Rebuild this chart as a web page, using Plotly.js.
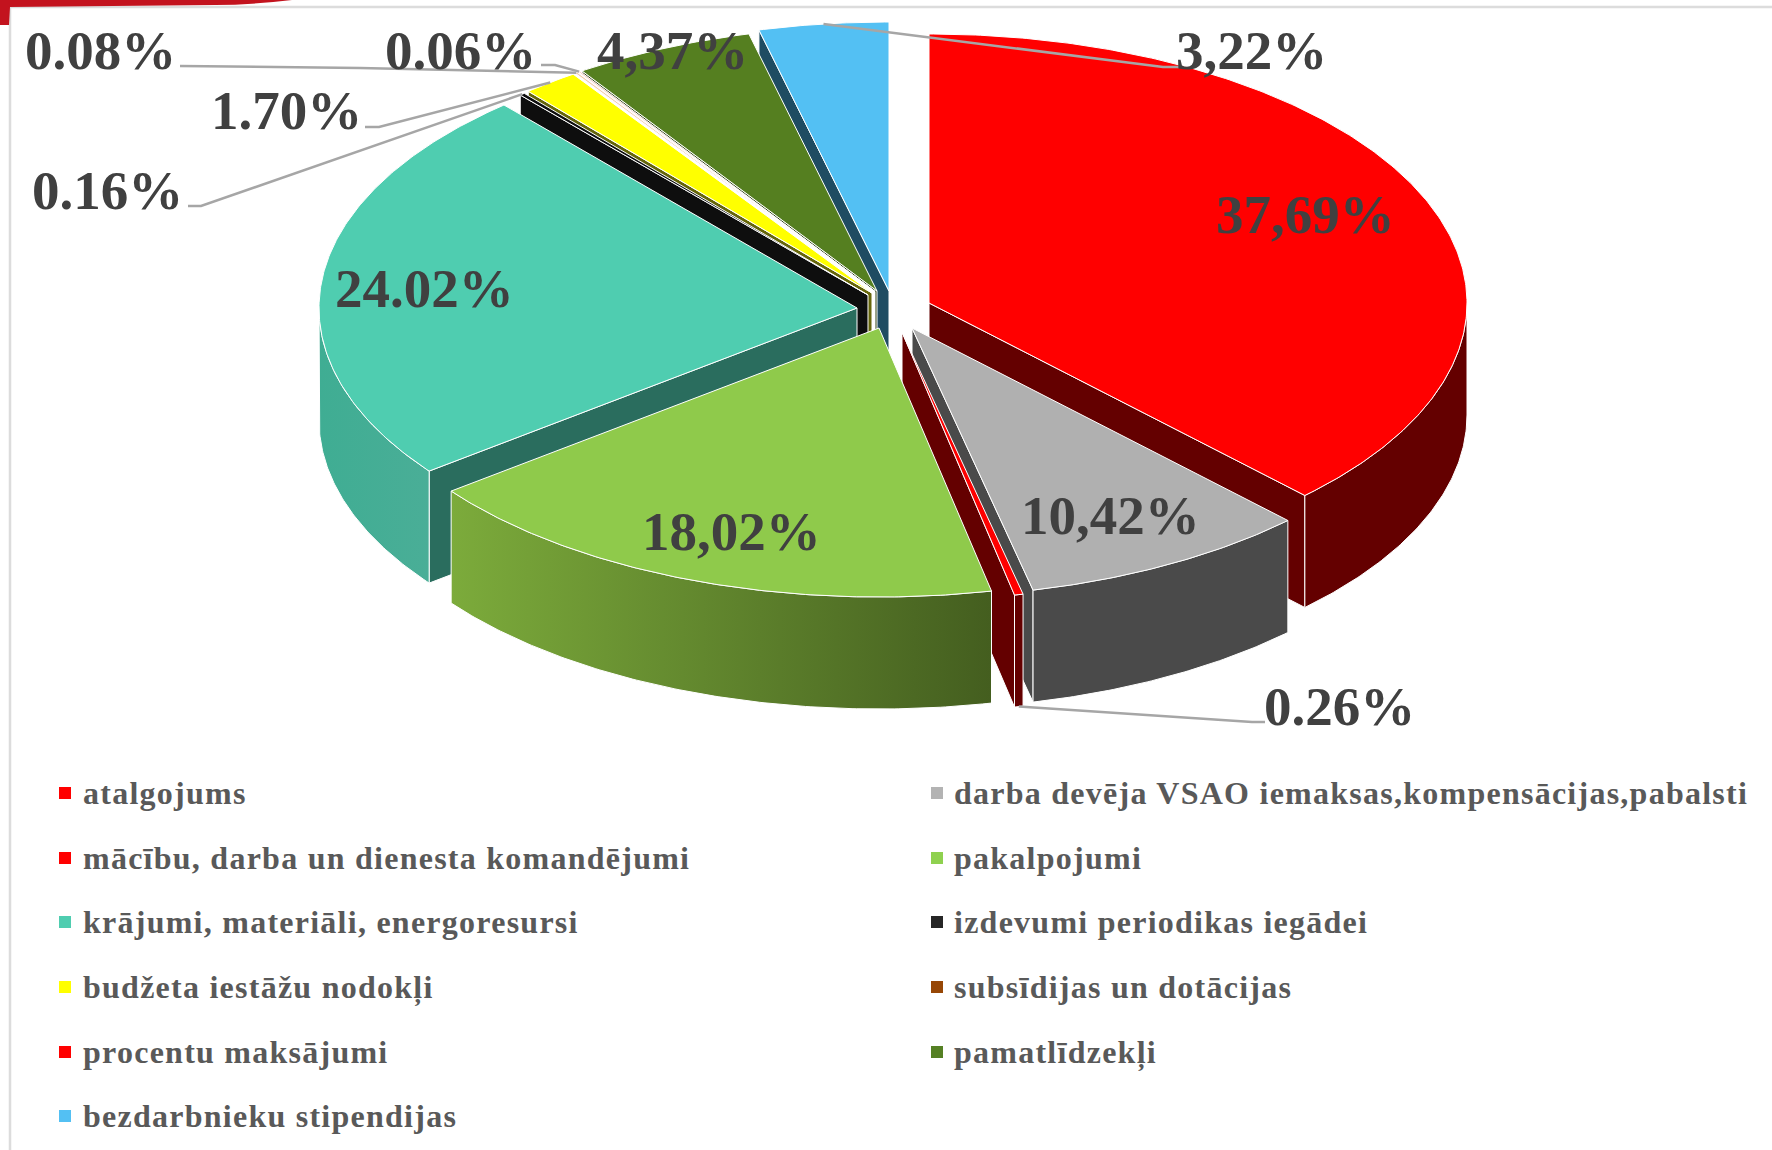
<!DOCTYPE html>
<html><head><meta charset="utf-8">
<script src="https://cdn.plot.ly/plotly-3.0.1.min.js"></script>
<style>html,body{margin:0;padding:0;background:#fff}#plot{width:1772px;height:1150px}
.annotation-text[style*="font-size: 32px"]{letter-spacing:1.25px}</style></head>
<body><div id="plot"></div>
<script>
// --- chart data ---
const categories = ["atalgojums","darba devēja VSAO iemaksas,kompensācijas,pabalsti","mācību, darba un dienesta komandējumi","pakalpojumi","krājumi, materiāli, energoresursi","izdevumi periodikas iegādei","budžeta iestāžu nodokļi","subsīdijas un dotācijas","procentu maksājumi","pamatlīdzekļi","bezdarbnieku stipendijas"];
const values = [37.69,10.42,0.26,18.02,24.02,0.16,1.70,0.08,0.06,4.37,3.22];
const valueLabels = ["37,69%","10,42%","0.26%","18,02%","24.02%","0.16%","1.70%","0.08%","0.06%","4,37%","3,22%"];

// --- styling ---
const topColors = ["#ff0000","#b0b0b0","#ff0000","#8fca4b","#4fcdb0","#0e0e0e","#ffff00","#f3c9a8","#ffc0c0","#557f20","#53c0f3"];
const wallColors = ["#640000","#4a4a4a","#640000","#445e1f","#2a6d5e","#0e0e0e","#66660a","#ffffff","#ffffff","#2e4215","#1f4c62"];
const legendColors = ["#ff0000","#b3b3b3","#ff0000","#8fd14f","#4fcdb0","#262626","#ffff00","#974706","#ff0000","#558024","#53c0f3"];
const wallGradients = {3:["#7cab3b","#445e1f"],4:["#3fad93","#4aae97"]};

// --- projection of the 3D view ---
const rx = 538, ry = 269, depth = 112;
const apexX = [929,912,902,879,857,868,872,874,875,877,889];
const apexY = [303,328,332,328,308,295,293,292,291.5,291,291];
const radiusScale = [1,1,1,1,1,0.985,0.985,0.985,0.985,0.985,1];
// perspective warp of the angle around the ring
const warpAt = [0,135.7,173.2,332.68,348.4,360];
const warpBy = [0,0,-6.2,-6.5,-2.4,0];
function warp(a){
  for(let i=1;i<warpAt.length;i++){
    if(a<=warpAt[i]){const t=(a-warpAt[i-1])/(warpAt[i]-warpAt[i-1]);
      return a+warpBy[i-1]+t*(warpBy[i]-warpBy[i-1]);}
  }
  return a;
}
const total = values.reduce((s,v)=>s+v,0);
const startA=[],endA=[];
let cum=0;
values.forEach((v,i)=>{startA[i]=warp(cum/total*360);cum+=v;endA[i]=warp(cum/total*360);});
const rad=d=>d*Math.PI/180;
const pt=(i,a,h=0)=>[apexX[i]+radiusScale[i]*rx*Math.sin(rad(a)),apexY[i]-radiusScale[i]*ry*Math.cos(rad(a))+h];
function arc(i,a,b,h){const n=Math.max(2,Math.ceil(Math.abs(b-a)/0.5));const o=[];
  for(let k=0;k<=n;k++)o.push(pt(i,a+(b-a)*k/n,h));return o;}

const traces=[];
function poly(points,color,grad){
  const pts=points.concat([points[0]]);
  const t={type:"scatter",mode:"lines",x:pts.map(p=>p[0]),y:pts.map(p=>p[1]),fill:"toself",
    fillcolor:color,line:{color:"#ffffff",width:1},hoverinfo:"skip",showlegend:false};
  if(grad)t.fillgradient={type:"horizontal",colorscale:[[0,grad[0]],[1,grad[1]]]};
  traces.push(t);
}
const paintOrder=[10,9,8,7,6,5,4,0,1,2,3];
paintOrder.forEach(i=>{
  const a=startA[i],b=endA[i],ap=[apexX[i],apexY[i]],apB=[apexX[i],apexY[i]+depth];
  if(a>180&&a<360) poly([ap,pt(i,a),pt(i,a,depth),apB],wallColors[i]);
  if(b>0&&b<180) poly([ap,pt(i,b),pt(i,b,depth),apB],wallColors[i]);
  const f=Math.max(a,90),g=Math.min(b,270);
  if(g>f) poly(arc(i,f,g,0).concat(arc(i,g,f,depth)),wallColors[i],wallGradients[i]);
  poly([ap].concat(arc(i,a,b,0)),topColors[i]);
});

// --- leader lines: fixed label end, slice end from the geometry ---
const leaderFrom={2:[[1265,722],[1252,722]],5:[[188,206],[201,206]],6:[[365,127],[379,127]],7:[[180,66],[360,68]],8:[[541,65],[555,65]],10:[[1179,67],[1163,67]]};
Object.keys(leaderFrom).forEach(k=>{
  const i=+k,m=(startA[i]+endA[i])/2,e=pt(i,m,i===2?depth:0);
  const p=leaderFrom[k].concat([e]);
  traces.push({type:"scatter",mode:"lines",x:p.map(q=>q[0]),y:p.map(q=>q[1]),
    line:{color:"#a6a6a6",width:2.5},hoverinfo:"skip",showlegend:false});
});

// --- percent labels ---
const labelX=[1305,1110,1339,731,424,107,286,100,460,672,1251];
const labelY=[214,515,706,531,288,190,110,50,50,50,50];
const annotations=valueLabels.map((s,i)=>({x:labelX[i],y:labelY[i],xref:"x",yref:"y",text:"<b>"+s+"</b>",showarrow:false,
  xanchor:"center",yanchor:"middle",font:{family:"Liberation Serif",size:55,color:"#404040"}}));

// --- legend in two columns ---
const rowY=[793,858,922,987,1052,1116];
const colMarkX=[65,937],colTextX=[80.5,951.5];
categories.forEach((c,i)=>{
  const col=i%2,row=Math.floor(i/2);
  traces.push({type:"scatter",mode:"markers",x:[colMarkX[col]],y:[rowY[row]],
    marker:{symbol:"square",size:12,color:legendColors[i]},hoverinfo:"skip",showlegend:false});
  annotations.push({x:colTextX[col],y:rowY[row],xref:"x",yref:"y",text:"<b>"+c+"</b>",showarrow:false,
    xanchor:"left",yanchor:"middle",captureevents:false,
    font:{family:"Liberation Serif",size:32,color:"#595959"}});
});

// --- frame of the slide ---
const shapes=[
  {type:"line",xref:"x",yref:"y",x0:10,x1:1772,y0:7,y1:7,line:{color:"#dcdcdc",width:2.5}},
  {type:"line",xref:"x",yref:"y",x0:10,x1:10,y0:7,y1:1150,line:{color:"#dcdcdc",width:2.5}},
  {type:"path",xref:"x",yref:"y",path:"M0,0 L292,0 Q250,5 215,5 L10,7 L9,25 L0,25 Z",fillcolor:"#c3131e",line:{width:0}}
];

const axis={visible:false,fixedrange:true,showgrid:false,zeroline:false};
Plotly.newPlot("plot",traces,{
  width:1772,height:1150,margin:{l:0,r:0,t:0,b:0},paper_bgcolor:"#fff",plot_bgcolor:"#fff",
  xaxis:Object.assign({range:[0,1772]},axis),yaxis:Object.assign({range:[1150,0]},axis),
  annotations,shapes,showlegend:false
},{displayModeBar:false,responsive:false});
</script></body></html>
